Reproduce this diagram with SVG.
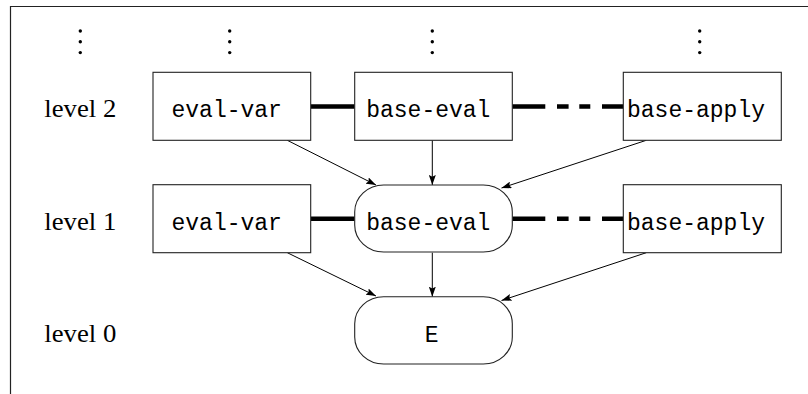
<svg xmlns="http://www.w3.org/2000/svg" width="808" height="394" viewBox="0 0 808 394">
  <defs>
    <style>
      .box { fill: #ffffff; stroke: #222222; stroke-width: 1.1; }
      .mono { font-family: "Liberation Mono", "DejaVu Sans Mono", monospace; font-size: 23px; fill: #000000; text-anchor: middle; }
      .lvl { font-family: "Liberation Serif", "DejaVu Serif", serif; font-size: 25.5px; fill: #000000; }
      .arrow { stroke: #000000; stroke-width: 1; fill: none; marker-end: url(#tip); }
      .link { stroke: #000000; stroke-width: 4.5; fill: none; }
      .dot { fill: #000000; }
    </style>
    <marker id="tip" viewBox="0 0 10 7" refX="10" refY="3.5" markerWidth="10" markerHeight="7" markerUnits="userSpaceOnUse" orient="auto">
      <path d="M0,0 L10,3.5 L0,7 L1.8,3.5 z" fill="#000000"/>
    </marker>
    <g id="vdots">
      <circle class="dot" cx="0" cy="31" r="1.7"/>
      <circle class="dot" cx="0" cy="41.8" r="1.7"/>
      <circle class="dot" cx="0" cy="52.6" r="1.7"/>
    </g>
  </defs>

  <rect width="808" height="394" fill="#ffffff"/>

  <!-- frame -->
  <path d="M10.5,394 L10.5,6.5 L808,6.5" fill="none" stroke="#222222" stroke-width="1.2"/>

  <!-- continuation marks above the top level -->
  <g id="ellipses">
    <use href="#vdots" x="80.3"/>
    <use href="#vdots" x="229.7"/>
    <use href="#vdots" x="432.3"/>
    <use href="#vdots" x="699.7"/>
  </g>

  <!-- level labels -->
  <g id="labels">
    <text class="lvl" x="44.3" y="117.3" textLength="72" lengthAdjust="spacingAndGlyphs">level 2</text>
    <text class="lvl" x="44.3" y="229.5" textLength="72" lengthAdjust="spacingAndGlyphs">level 1</text>
    <text class="lvl" x="44.3" y="341.7" textLength="72" lengthAdjust="spacingAndGlyphs">level 0</text>
  </g>

  <!-- connectors -->
  <g id="connectors">
    <!-- same-level links -->
    <line class="link" x1="310.7" y1="106.5" x2="354.7" y2="106.5"/>
    <line class="link" x1="512.3" y1="106.5" x2="623.3" y2="106.5" stroke-dasharray="33 11.7 11.6 10.7 11 11.7 21.3"/>
    <line class="link" x1="310.7" y1="218.7" x2="354.7" y2="218.7"/>
    <line class="link" x1="512.3" y1="218.7" x2="623.3" y2="218.7" stroke-dasharray="33 11.7 11.6 10.7 11 11.7 21.3"/>
    <!-- level 2 to level 1 -->
    <line class="arrow" x1="287.3" y1="140.3" x2="376" y2="185"/>
    <line class="arrow" x1="432.3" y1="140.3" x2="432.3" y2="185"/>
    <line class="arrow" x1="646.3" y1="140.3" x2="501.5" y2="188"/>
    <!-- level 1 to level 0 -->
    <line class="arrow" x1="287.3" y1="252.7" x2="376" y2="296"/>
    <line class="arrow" x1="432.3" y1="252.7" x2="432.3" y2="296.7"/>
    <line class="arrow" x1="646.3" y1="252.7" x2="501.5" y2="300.5"/>
  </g>

  <!-- level 2 -->
  <g id="eval-var-2">
    <rect class="box" x="153" y="72.3" width="157.7" height="68"/>
    <text class="mono" x="226.7" y="117.3">eval-var</text>
  </g>
  <g id="base-eval-2">
    <rect class="box" x="354.7" y="72.3" width="157.6" height="68"/>
    <text class="mono" x="428.3" y="117.3">base-eval</text>
  </g>
  <g id="base-apply-2">
    <rect class="box" x="623.3" y="72.3" width="158" height="68"/>
    <text class="mono" x="696" y="117.3">base-apply</text>
  </g>

  <!-- level 1 -->
  <g id="eval-var-1">
    <rect class="box" x="153" y="184.7" width="157.7" height="68"/>
    <text class="mono" x="226.7" y="229.5">eval-var</text>
  </g>
  <g id="base-eval-1">
    <rect class="box" x="354.7" y="185" width="157.6" height="67" rx="29" ry="27"/>
    <text class="mono" x="428.3" y="229.5">base-eval</text>
  </g>
  <g id="base-apply-1">
    <rect class="box" x="623.3" y="184.7" width="158" height="68"/>
    <text class="mono" x="696" y="229.5">base-apply</text>
  </g>

  <!-- level 0 -->
  <g id="E-0">
    <rect class="box" x="354.7" y="296.7" width="157.6" height="67.3" rx="29" ry="27"/>
    <text class="mono" x="431.7" y="341.7">E</text>
  </g>
</svg>
